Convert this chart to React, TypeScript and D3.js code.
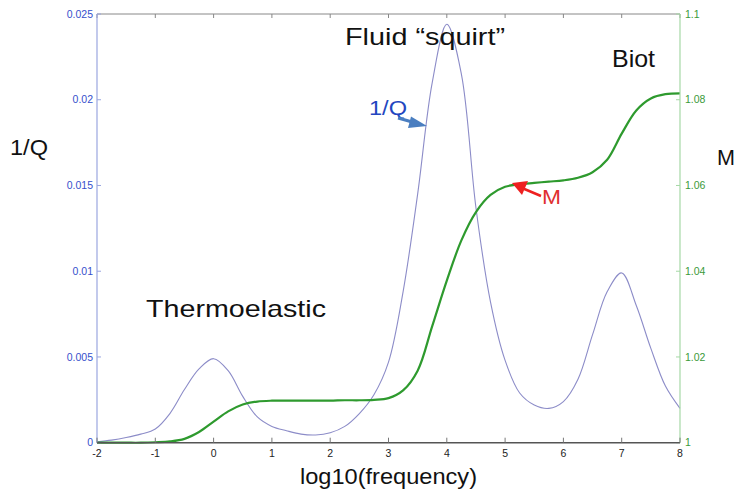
import React from "react";
import * as d3 from "d3";

const xTicks = [-2, -1, 0, 1, 2, 3, 4, 5, 6, 7, 8];
const leftTicks = [0, 0.005, 0.01, 0.015, 0.02, 0.025];
const leftTickLabels = ["0", "0.005", "0.01", "0.015", "0.02", "0.025"];
const rightTicks = [1, 1.02, 1.04, 1.06, 1.08, 1.1];
const rightTickLabels = ["1", "1.02", "1.04", "1.06", "1.08", "1.1"];

const logFreq = [
  -2, -1.75, -1.5, -1.25, -1, -0.75, -0.5, -0.25, 0, 0.25, 0.5, 0.75, 1, 1.25, 1.5, 1.75, 2, 2.25, 2.5, 2.75,
  3, 3.25, 3.5, 3.75, 4, 4.25, 4.5, 4.75, 5, 5.25, 5.5, 5.75, 6, 6.25, 6.5, 6.75, 7, 7.25, 7.5, 7.75, 8,
];
const invQ = [
  0.00005, 0.00015, 0.0003, 0.0005, 0.0008, 0.0017, 0.0031, 0.0043, 0.0049, 0.0042, 0.0027, 0.0015, 0.00095,
  0.0007, 0.0005, 0.00045, 0.00058, 0.00095, 0.0017, 0.0028, 0.0047, 0.0088, 0.0145, 0.021, 0.0244, 0.0215,
  0.0137, 0.0082, 0.0048, 0.0029, 0.0022, 0.002, 0.0024, 0.0037, 0.0063, 0.0088, 0.0099, 0.008, 0.0055, 0.0033,
  0.002,
];
const modulus = [
  1.0, 1.0, 1.0, 1.0, 1.0001, 1.0003, 1.0009, 1.0025, 1.0049, 1.0073, 1.0089, 1.0096, 1.0098, 1.0098, 1.0098,
  1.0098, 1.0098, 1.0099, 1.0099, 1.01, 1.0104, 1.0122, 1.0168, 1.0272, 1.0378, 1.0472, 1.0538, 1.0578, 1.0597,
  1.0603, 1.0606, 1.0609, 1.0612, 1.0618, 1.0631, 1.066, 1.0721, 1.0775, 1.0803, 1.0813, 1.0815,
];

const W = 735;
const H = 495;
const L = 97;
const R = 680;
const T = 14;
const B = 442.7;

export default function App() {
  const x = d3.scaleLinear().domain([-2, 8]).range([L, R]);
  const yL = d3.scaleLinear().domain([0, 0.025]).range([B, T]);
  const yR = d3.scaleLinear().domain([1, 1.1]).range([B, T]);

  const qLine = d3
    .line<number>()
    .x((_, i) => x(logFreq[i]))
    .y((d) => yL(d))
    .curve(d3.curveCatmullRom.alpha(0.5));
  const mLine = d3
    .line<number>()
    .x((_, i) => x(logFreq[i]))
    .y((d) => yR(d))
    .curve(d3.curveCatmullRom.alpha(0.5));

  const font = "Liberation Sans, Arial, Helvetica, sans-serif";

  return (
    <svg
      width={W}
      height={H}
      style={{ position: "absolute", left: 0, top: 0, background: "#fff" }}
      fontFamily={font}
    >
      {/* top border */}
      <line x1={L} x2={R} y1={T} y2={T} stroke="#888" strokeWidth={1} />
      {xTicks.map((t) => (
        <line key={"tt" + t} x1={x(t)} x2={x(t)} y1={T} y2={T + 4} stroke="#888" strokeWidth={1} />
      ))}

      {/* curves */}
      <path d={qLine(invQ) || ""} fill="none" stroke="#8c8cc8" strokeWidth={1.1} />
      <path d={mLine(modulus) || ""} fill="none" stroke="#2e9a2e" strokeWidth={2.2} />

      {/* left axis */}
      <line x1={L} x2={L} y1={T} y2={B} stroke="#9aa6e0" strokeWidth={1.2} />
      {leftTicks.map((t, i) => (
        <g key={"l" + t}>
          <line x1={L} x2={L + 4} y1={yL(t)} y2={yL(t)} stroke="#9aa6e0" />
          <text x={L - 4} y={yL(t)} dy="0.35em" textAnchor="end" fontSize={10.5} fill="#3550cc">
            {leftTickLabels[i]}
          </text>
        </g>
      ))}

      {/* right axis */}
      <line x1={R} x2={R} y1={T} y2={B} stroke="#a6d8a6" strokeWidth={1.2} />
      {rightTicks.map((t, i) => (
        <g key={"r" + t}>
          <line x1={R - 4} x2={R} y1={yR(t)} y2={yR(t)} stroke="#a6d8a6" />
          <text x={R + 5} y={yR(t)} dy="0.35em" textAnchor="start" fontSize={10.5} fill="#3a9a3a">
            {rightTickLabels[i]}
          </text>
        </g>
      ))}

      {/* bottom axis */}
      <line x1={L} x2={R} y1={B} y2={B} stroke="#555" strokeWidth={1.5} />
      {xTicks.map((t) => (
        <g key={"b" + t}>
          <line x1={x(t)} x2={x(t)} y1={B} y2={B - 5} stroke="#777" />
          <text x={x(t)} y={B + 14} textAnchor="middle" fontSize={10.5} fill="#222">
            {t}
          </text>
        </g>
      ))}

      {/* axis titles */}
      <text x={300} y={484} fontSize={22} fill="#111" textLength={177} lengthAdjust="spacingAndGlyphs">
        log10(frequency)
      </text>
      <text x={10} y={155} fontSize={22} fill="#111" textLength={38} lengthAdjust="spacingAndGlyphs">
        1/Q
      </text>
      <text x={717} y={165} fontSize={22} fill="#111" textLength={18} lengthAdjust="spacingAndGlyphs">
        M
      </text>

      {/* annotations */}
      <text x={345} y={45} fontSize={24} fill="#111" textLength={160} lengthAdjust="spacingAndGlyphs">
        Fluid “squirt”
      </text>
      <text x={612} y={67} fontSize={24} fill="#111" textLength={43} lengthAdjust="spacingAndGlyphs">
        Biot
      </text>
      <text x={146} y={317} fontSize={24} fill="#111" textLength={180} lengthAdjust="spacingAndGlyphs">
        Thermoelastic
      </text>
      <text x={369} y={115} fontSize={20} fill="#2346c0" textLength={38} lengthAdjust="spacingAndGlyphs">
        1/Q
      </text>
      <text x={542} y={204} fontSize={20} fill="#e03030" textLength={19} lengthAdjust="spacingAndGlyphs">
        M
      </text>

      {/* blue arrow */}
      <line x1={398} y1={118} x2={414} y2={122.5} stroke="#4a7ec0" strokeWidth={3} />
      <polygon points="427,126 411,116.5 408,128" fill="#4a7ec0" />
      {/* red arrow */}
      <line x1={541} y1={196} x2={522} y2={188} stroke="#ee2020" strokeWidth={2.5} />
      <polygon points="512,183 528,181 522,195" fill="#ee2020" />
    </svg>
  );
}
